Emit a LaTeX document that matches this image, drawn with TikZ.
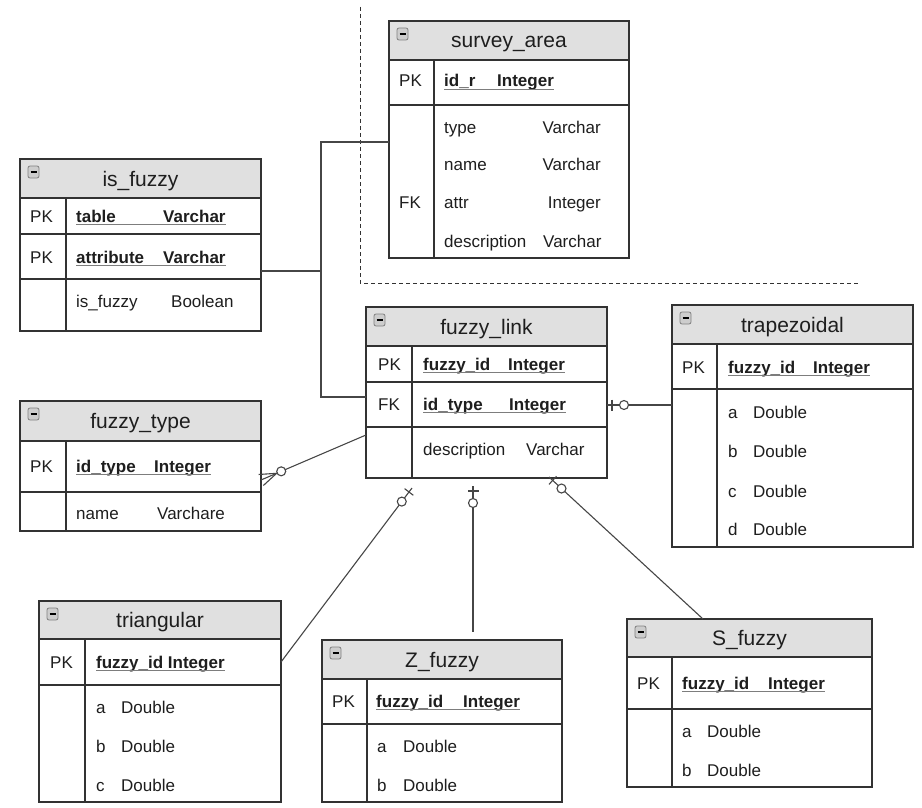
\documentclass[tikz,border=0pt]{standalone}
\usepackage{fontspec}
\setmainfont{Liberation Sans}
\usetikzlibrary{calc}

\definecolor{hdrgray}{RGB}{224,224,224}
\definecolor{ink}{RGB}{30,30,30}
\definecolor{edge}{RGB}{50,50,50}
\definecolor{ulgray}{RGB}{125,125,125}
\definecolor{linkgray}{RGB}{70,70,70}
\definecolor{icongray}{RGB}{205,205,205}

\tikzset{
  tablebox/.style={draw=edge, line width=1.3pt, fill=white, anchor=north west,
                   inner sep=0pt, outer sep=0pt},
  tableline/.style={draw=edge, line width=1.3pt},
  titletext/.style={anchor=base, inner sep=0pt, text=ink,
                    font=\fontsize{21}{25}\selectfont},
  keytext/.style={anchor=base west, inner sep=0pt, text=ink,
                  font=\fontsize{17}{20}\selectfont},
  typetext/.style={keytext, anchor=base east},
  pktext/.style={keytext, font=\fontsize{17}{20}\selectfont\bfseries},
  pkline/.style={draw=ulgray, line width=0.9pt},
  conn/.style={draw=linkgray, line width=1.1pt},
  boxicon/.style={draw=gray, fill=icongray, rounded corners=2pt, line width=0.8pt},
  iconbar/.style={draw=black, line width=1.4pt},
  fence/.style={draw=edge, line width=1pt, dash pattern=on 4pt off 3pt},
}

% entity box: name, left, top, right, bottom, header bottom, key divider, title
\newcommand\ertable[8]{%
  \node[tablebox, minimum width={(#4-#2)*1pt}, minimum height={(#5-#3)*1pt}] (#1) at (#2,#3) {};
  \draw[tableline, fill=hdrgray] (#2,#3) rectangle (#4,#6);
  \draw[tableline] (#7,#6) -- (#7,#5);
  \node[titletext] (#1-title) at ({(#2+#4)/2},{(#3+#6)/2+7.5}) {#8};
  \draw[boxicon] (#2+8,#3+7) rectangle (#2+19,#3+19);
  \draw[iconbar] (#2+10.5,#3+13) -- (#2+16.5,#3+13);
}
% horizontal separator across an entity box
\newcommand\rowsep[2]{%
  \coordinate (rs) at (0,#2);
  \draw[tableline] (#1.west |- rs) -- (#1.east |- rs);
}
% underlined primary key: node prefix, x of name, baseline, name, x of type, type
\newcommand\pkrow[6]{%
  \node[pktext] (#1-n) at (#2,#3) {#4};
  \node[pktext] (#1-t) at (#5,#3) {#6};
  \draw[pkline] ([yshift=-2.5pt]#1-n.base west) -- ([yshift=-2.5pt]#1-t.base east);
}
% relationship end markers
\newcommand\onebar[3]{%
  \coordinate (mk) at ($(#1)!#3!(#2)$);
  \draw[conn] ($(mk)!5.5pt!90:(#2)$) -- ($(mk)!5.5pt!-90:(#2)$);
}
\newcommand\zeroring[3]{%
  \coordinate (mk) at ($(#1)!#3!(#2)$);
  \draw[conn, fill=white] (mk) circle (4.5pt);
}
\newcommand\crowsfoot[2]{%
  \coordinate (mk) at ($(#1)!17pt!(#2)$);
  \draw[conn] ($(#1)!6pt!90:(#2)$) -- (mk) -- ($(#1)!6pt!-90:(#2)$);
}

\begin{document}
\begin{tikzpicture}[x=1pt,y=-1pt]
\useasboundingbox (0,0) rectangle (922,808);
\fill[white] (0,0) rectangle (922,808);

% boundary of the survey area
\draw[fence] (360,7) -- (360,283) -- (858,283);

% ---------- survey_area ----------
\ertable{sa}{389}{21}{629}{258}{60}{434}{survey\_area}
\rowsep{sa}{105}
\node[keytext] (sa-pk) at (399,87) {PK};
\pkrow{sa-id}{444}{87}{id\_r}{497}{Integer}
\node[keytext] (sa-fk) at (399,208) {FK};
\node[keytext] (sa-f1) at (444,133) {type};
\node[typetext] (sa-t1) at (601,133) {Varchar};
\node[keytext] (sa-f2) at (444,170) {name};
\node[typetext] (sa-t2) at (601,170) {Varchar};
\node[keytext] (sa-f3) at (444,208) {attr};
\node[typetext] (sa-t3) at (601,208) {Integer};
\node[keytext] (sa-f4) at (444,247) {description};
\node[keytext] (sa-t4) at (543,247) {Varchar};

% ---------- is_fuzzy ----------
\ertable{if}{20}{159}{261}{331}{198}{66}{is\_fuzzy}
\rowsep{if}{234}
\rowsep{if}{279}
\node[keytext] (if-pk1) at (30,222) {PK};
\pkrow{if-tb}{76}{222}{table}{163}{Varchar}
\node[keytext] (if-pk2) at (30,263) {PK};
\pkrow{if-at}{76}{263}{attribute}{163}{Varchar}
\node[keytext] (if-f1) at (76,307) {is\_fuzzy};
\node[keytext] (if-t1) at (171,307) {Boolean};

% ---------- fuzzy_type ----------
\ertable{ft}{20}{401}{261}{531}{441}{66}{fuzzy\_type}
\rowsep{ft}{492}
\node[keytext] (ft-pk) at (30,472) {PK};
\pkrow{ft-id}{76}{472}{id\_type}{154}{Integer}
\node[keytext] (ft-f1) at (76,519) {name};
\node[keytext] (ft-t1) at (157,519) {Varchare};

% ---------- fuzzy_link ----------
\ertable{fl}{366}{307}{607}{478}{346}{412}{fuzzy\_link}
\rowsep{fl}{382}
\rowsep{fl}{427}
\node[keytext] (fl-pk) at (378,370) {PK};
\pkrow{fl-id}{423}{370}{fuzzy\_id}{508}{Integer}
\node[keytext] (fl-fk) at (378,410) {FK};
\pkrow{fl-ty}{423}{410}{id\_type}{509}{Integer}
\node[keytext] (fl-f1) at (423,455) {description};
\node[keytext] (fl-t1) at (526,455) {Varchar};

% ---------- trapezoidal ----------
\ertable{tz}{672}{305}{913}{547}{344}{717}{trapezoidal}
\rowsep{tz}{389}
\node[keytext] (tz-pk) at (682,373) {PK};
\pkrow{tz-id}{728}{373}{fuzzy\_id}{813}{Integer}
\node[keytext] (tz-f1) at (728,418) {a};
\node[keytext] (tz-t1) at (753,418) {Double};
\node[keytext] (tz-f2) at (728,457) {b};
\node[keytext] (tz-t2) at (753,457) {Double};
\node[keytext] (tz-f3) at (728,497) {c};
\node[keytext] (tz-t3) at (753,497) {Double};
\node[keytext] (tz-f4) at (728,535) {d};
\node[keytext] (tz-t4) at (753,535) {Double};

% ---------- triangular ----------
\ertable{tr}{39}{601}{281}{802}{639}{85}{triangular}
\rowsep{tr}{685}
\node[keytext] (tr-pk) at (50,668) {PK};
\node[pktext] (tr-id) at (96,668) {fuzzy\_id Integer};
\draw[pkline] ([yshift=-2.5pt]tr-id.base west) -- ([yshift=-2.5pt]tr-id.base east);
\node[keytext] (tr-f1) at (96,713) {a};
\node[keytext] (tr-t1) at (121,713) {Double};
\node[keytext] (tr-f2) at (96,752) {b};
\node[keytext] (tr-t2) at (121,752) {Double};
\node[keytext] (tr-f3) at (96,791) {c};
\node[keytext] (tr-t3) at (121,791) {Double};

% ---------- Z_fuzzy ----------
\ertable{zf}{322}{640}{562}{802}{679}{367}{Z\_fuzzy}
\rowsep{zf}{724}
\node[keytext] (zf-pk) at (332,707) {PK};
\pkrow{zf-id}{376}{707}{fuzzy\_id}{463}{Integer}
\node[keytext] (zf-f1) at (377,752) {a};
\node[keytext] (zf-t1) at (403,752) {Double};
\node[keytext] (zf-f2) at (377,791) {b};
\node[keytext] (zf-t2) at (403,791) {Double};

% ---------- S_fuzzy ----------
\ertable{sf}{627}{619}{872}{787}{657}{672}{S\_fuzzy}
\rowsep{sf}{709}
\node[keytext] (sf-pk) at (637,689) {PK};
\pkrow{sf-id}{682}{689}{fuzzy\_id}{768}{Integer}
\node[keytext] (sf-f1) at (682,737) {a};
\node[keytext] (sf-t1) at (707,737) {Double};
\node[keytext] (sf-f2) at (682,776) {b};
\node[keytext] (sf-t2) at (707,776) {Double};

% ---------- relationships ----------
% survey_area / is_fuzzy -> fuzzy_link
\coordinate (j1) at (321,142);
\coordinate (j2) at (321,397);
\coordinate (j3) at (321,271);
\draw[conn] (sa.west |- j1) -- (j1) -- (j2) -- (fl.west |- j2);
\draw[conn] (if.east |- j3) -- (j3);

% fuzzy_link -> trapezoidal
\coordinate (c0) at (640,405);
\coordinate (c1) at (fl.east |- c0);
\coordinate (c2) at (tz.west |- c0);
\draw[conn] (c1) -- (c2);
\onebar{c1}{c2}{5pt}
\zeroring{c1}{c2}{17pt}

% fuzzy_type -> fuzzy_link
\coordinate (d0) at (0,480);
\coordinate (d3) at (0,435);
\coordinate (d1) at (ft.east |- d0);
\coordinate (d2) at (fl.west |- d3);
\draw[conn] (d1) -- (d2);
\crowsfoot{d1}{d2}
\zeroring{d1}{d2}{22pt}

% fuzzy_link -> triangular
\coordinate (e1) at (412,488);
\coordinate (e0) at (0,662);
\coordinate (e2) at (tr.east |- e0);
\draw[conn] (e1) -- (e2);
\onebar{e1}{e2}{5pt}
\zeroring{e1}{e2}{17pt}

% fuzzy_link -> Z_fuzzy
\coordinate (f1) at (473,486);
\path (f1 |- zf.north) ++(0,-8) coordinate (f2);
\draw[conn] (f1) -- (f2);
\onebar{f1}{f2}{5pt}
\zeroring{f1}{f2}{17pt}

% fuzzy_link -> S_fuzzy
\coordinate (g1) at (549,477);
\path (sf.north west) ++(76,0) coordinate (g2);
\draw[conn] (g1) -- (g2);
\onebar{g1}{g2}{5pt}
\zeroring{g1}{g2}{17pt}
\end{tikzpicture}
\end{document}
